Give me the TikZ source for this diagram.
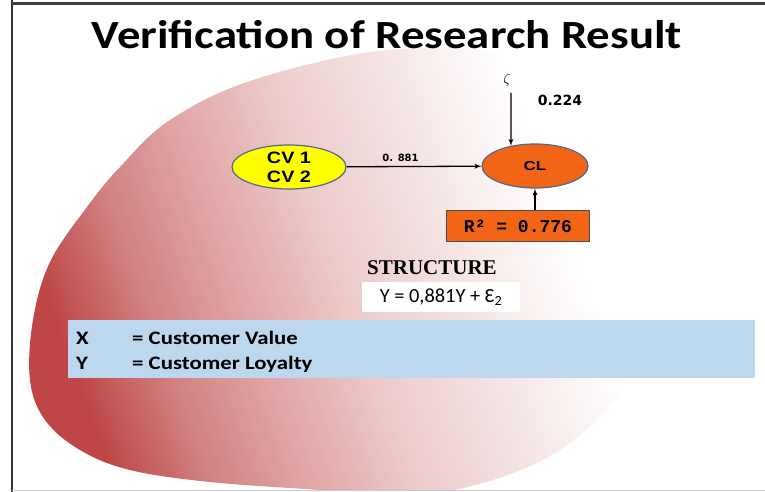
\documentclass[tikz,border=0pt]{standalone}
\usepackage{fontspec}
\setmainfont{Carlito}
\newfontfamily\arialfam{Liberation Sans}
\newfontfamily\verdanafam{DejaVu Sans}
\newfontfamily\courierfam{Liberation Mono}
\newfontfamily\timesfam{Liberation Serif}
\usepackage{graphicx}
\usepackage{tikz}
\usetikzlibrary{arrows, shapes, calc, positioning}
\definecolor{cvyellow}{RGB}{255,255,0}
\definecolor{clorange}{RGB}{242,101,22}
\definecolor{rimblue}{RGB}{84,104,136}
\definecolor{bandblue}{RGB}{189,215,238}
\definecolor{blobred}{RGB}{190,70,70}
\definecolor{blobrose}{RGB}{210,130,130}
\definecolor{blobpink}{RGB}{225,166,166}
\definecolor{bloblight}{RGB}{236,202,202}
\definecolor{blobpale}{RGB}{245,228,228}
\pgfdeclarehorizontalshading{blobfade}{100bp}{color(0bp)=(blobred);
  color(25bp)=(blobred); color(32.5bp)=(blobrose); color(40bp)=(blobpink);
  color(48bp)=(bloblight); color(57bp)=(blobpale); color(67bp)=(white);
  color(100bp)=(white)}
\newcommand{\widen}[2][1.2]{\scalebox{#1}[1]{#2}}
\tikzset{>=latex', font=\bfseries}
\tikzset{latent/.style={shape=ellipse, draw=rimblue, line width=1.2pt,
    inner sep=0pt, font=\arialfam\bfseries}}
\tikzset{path/.style={->, line width=1.3pt}}
\tikzset{bandtext/.style={anchor=base west, inner sep=0pt,
    font=\fontsize{19}{19}\selectfont\bfseries}}

\begin{document}
\begin{tikzpicture}[x=1pt,y=-1pt]
    \useasboundingbox (0,0) rectangle (765,492);
    \begin{scope}
      \clip (12,4) rectangle (765,489);
      \shade[shading=blobfade, shading angle=20]
        plot[smooth cycle, tension=.6] coordinates {(387,50) (253,80)
          (170,120) (120,167) (87,207) (50,262) (33,320) (30,380) (45,420)
          (80,450) (130,470) (210,482) (320,490) (420,497) (560,450)
          (660,340) (700,220) (640,100) (520,55)};
    \end{scope}
    \draw[line width=2pt, black!80] (12,0) -- (12,492);
    \draw[line width=3pt, black!75] (12,4) -- (765,4);
    \draw[line width=1pt, black!20] (12,490) -- (765,490);
    \node[font=\fontsize{40}{40}\selectfont\bfseries] (title) at (387,35)
      {\widen[1.17]{Verification of Research Result}};
    \node[latent, fill=cvyellow, minimum width=114pt, minimum height=44pt,
      align=center, font=\arialfam\bfseries\fontsize{16.5}{19}\selectfont]
      (cv) at (289,167) {\widen{CV 1}\\\widen{CV 2}};
    \node[latent, fill=clorange, minimum width=106pt, minimum height=44pt,
      font=\arialfam\bfseries\fontsize{13}{13}\selectfont]
      (cl) at (535,166) {\widen[1.3]{CL}};
    \node[font=\fontsize{15}{15}\selectfont] (zeta) at (507,80) {$\zeta$};
    \coordinate (zs) at (511,93);
    \node[font=\verdanafam\bfseries\fontsize{14}{14}\selectfont] (lz)
      at (560,100) {0.224};
    \node[draw=black!70, line width=1pt, fill=clorange, minimum width=143pt,
      minimum height=31pt, font=\courierfam\bfseries\fontsize{18}{18}\selectfont]
      (r2) at (518,226) {R² = 0.776};
    \coordinate (r2t) at (r2.north -| cl.south);
    \path[path] (cv) edge node[above=1pt, pos=.4,
      font=\verdanafam\bfseries\fontsize{10}{10}\selectfont] {0. 881} (cl);
    \path[path] (zs) edge (cl.140);
    \path[path] (r2t) edge (cl.south);
    \node[font=\timesfam\bfseries\fontsize{21}{21}\selectfont] (struct)
      at (432,268) {STRUCTURE};
    \node[fill=white, minimum width=158pt, minimum height=30pt,
      font=\fontsize{20}{20}\selectfont] (eq) at (441,297)
      {\widen[1.02]{Y = 0,881Y + Ɛ\textsubscript{2}}};
    \node[fill=bandblue, minimum width=687pt, minimum height=58pt,
      inner sep=0pt] (band) at (411.5,349) {};
    \node[bandtext] (x) at (76,344) {\widen{X}};
    \node[bandtext] (xv) at (132,344) {\widen{= Customer Value}};
    \node[bandtext] (y) at (76,369) {\widen{Y}};
    \node[bandtext] (yv) at (132,369) {\widen{= Customer Loyalty}};
  \end{tikzpicture}
\end{document}
